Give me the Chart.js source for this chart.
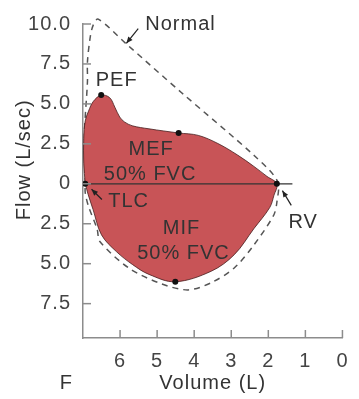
<!DOCTYPE html>
<html>
<head>
<meta charset="utf-8">
<script src="https://cdn.jsdelivr.net/npm/chart.js@4.4.1/dist/chart.umd.min.js"></script>
<style>
  html, body { margin: 0; padding: 0; background: #fff; overflow: hidden; }
  canvas { display: block; }
</style>
</head>
<body>
<canvas id="loop" width="359" height="399"></canvas>
<script>
// patient loop: expiration TLC -> RV (upper half), then inspiration RV -> TLC (lower half, negative)
const patientVolume = [6.94, 6.98, 6.98, 6.94, 6.85, 6.72, 6.51, 6.28, 6.14, 6.01, 5.88, 5.67, 5.22, 4.42, 3.89, 3.36, 2.83, 2.39, 2.04, 1.77,
  1.85, 1.96, 2.39, 2.92, 3.54, 4.51, 5.22, 5.66, 6.10, 6.50, 6.73, 6.86, 6.94];
const patientFlow = [0, 1.29, 2.83, 3.93, 4.55, 5.16, 5.55, 5.39, 4.79, 4.18, 3.87, 3.63, 3.44, 3.18, 3.03, 2.52, 1.80, 1.09, 0.47, 0,
  -0.74, -1.48, -2.81, -4.44, -5.47, -6.13, -5.67, -5.06, -4.24, -3.20, -1.60, -0.68, 0];

// normal loop (dashed)
const normalVolume = [6.94, 6.96, 6.88, 6.88, 6.81, 6.73, 6.59, 5.83, 4.34, 2.36, 1.75,
  1.77, 1.86, 2.39, 2.92, 3.54, 4.16, 4.87, 5.75, 6.54, 6.62, 6.86, 6.94, 6.94];
const normalFlow = [0, 3.2, 6.39, 7.62, 9.10, 9.90, 10.30, 8.75, 5.70, 1.72, 0.15,
  -1.17, -1.99, -3.83, -5.27, -6.19, -6.64, -6.27, -5.29, -3.63, -2.83, -1.35, -0.55, 0];

// marked points
const keyNames = ['TLC', 'PEF', 'MEF', 'MIF', 'RV'];
const keyVolume = [6.94, 6.51, 4.42, 4.51, 1.77];
const keyFlow = [0, 5.55, 3.18, -6.13, 0];

// zero flow line
const zeroVolume = [7, 1.35];
const zeroFlow = [0, 0];

const xTickValues = [6, 5, 4, 3, 2, 1, 0];
const xTickLabels = ['6', '5', '4', '3', '2', '1', '0'];
const yTickValues = [10, 7.5, 5, 2.5, 0, -2.5, -5, -7.5];
const yTickLabels = ['10.0', '7.5', '5.0', '2.5', '0', '2.5', '5.0', '7.5'];

const notes = [
  { text: 'Normal', x: 4.37, y: 9.95 },
  { text: 'PEF', x: 6.09, y: 6.45 },
  { text: 'MEF', x: 5.16, y: 2.15 },
  { text: '50% FVC', x: 5.19, y: 0.61 },
  { text: 'TLC', x: 5.77, y: -1.11 },
  { text: 'MIF', x: 4.34, y: -2.77 },
  { text: '50% FVC', x: 4.29, y: -4.36 },
  { text: 'RV', x: 1.06, y: -2.40 }
];
const arrows = [
  { from: [5.51, 9.71], to: [5.83, 8.79] },
  { from: [6.49, -0.98], to: [6.77, -0.34] },
  { from: [1.38, -1.35], to: [1.62, -0.43] }
];

const FONT = '"Liberation Sans", Arial, sans-serif';
const TEXT = '#333';
const AXIS = '#8c8c8c';

const pts = (xs, ys) => xs.map((v, i) => ({ x: v, y: ys[i] }));

function arrow(ctx, x0, y0, x1, y1) {
  const a = Math.atan2(y1 - y0, x1 - x0);
  ctx.beginPath();
  ctx.moveTo(x0, y0);
  ctx.lineTo(x1, y1);
  ctx.stroke();
  ctx.beginPath();
  ctx.moveTo(x1, y1);
  ctx.lineTo(x1 - 7 * Math.cos(a - 0.4), y1 - 7 * Math.sin(a - 0.4));
  ctx.lineTo(x1 - 7 * Math.cos(a + 0.4), y1 - 7 * Math.sin(a + 0.4));
  ctx.closePath();
  ctx.fill();
}

const overlay = {
  id: 'overlay',
  beforeDraw(chart) {
    chart.ctx.letterSpacing = '1px';
  },
  afterDatasetsDraw(chart) {
    const { ctx, scales: { x, y } } = chart;
    ctx.save();
    // inward tick marks
    ctx.strokeStyle = AXIS;
    ctx.lineWidth = 1.5;
    x.ticks.forEach(t => {
      const px = x.getPixelForValue(t.value);
      ctx.beginPath(); ctx.moveTo(px, y.bottom); ctx.lineTo(px, y.bottom - 8); ctx.stroke();
    });
    y.ticks.forEach(t => {
      const py = y.getPixelForValue(t.value);
      ctx.beginPath(); ctx.moveTo(x.left, py); ctx.lineTo(x.left + 8, py); ctx.stroke();
    });

    // arrows
    ctx.strokeStyle = '#222';
    ctx.fillStyle = '#222';
    ctx.lineWidth = 1.2;
    arrows.forEach(a => {
      arrow(ctx, x.getPixelForValue(a.from[0]), y.getPixelForValue(a.from[1]),
        x.getPixelForValue(a.to[0]), y.getPixelForValue(a.to[1]));
    });

    // labels
    ctx.fillStyle = TEXT;
    ctx.font = '20px ' + FONT;
    ctx.textAlign = 'center';
    ctx.textBaseline = 'middle';
    notes.forEach(n => ctx.fillText(n.text, x.getPixelForValue(n.x), y.getPixelForValue(n.y)));

    // stray caption letter
    ctx.fillText('F', x.getPixelForValue(7.45), chart.height - 16);

    // y axis title
    ctx.save();
    ctx.translate(y.left + 24, y.getPixelForValue(1.5));
    ctx.rotate(-Math.PI / 2);
    ctx.fillText('Flow (L/sec)', 0, 0);
    ctx.restore();
    ctx.restore();
  }
};

new Chart(document.getElementById('loop'), {
  type: 'scatter',
  data: {
    datasets: [
      {
        data: pts(keyVolume, keyFlow),
        pointRadius: 3,
        pointBackgroundColor: '#111',
        pointBorderWidth: 0,
        order: 0
      },
      {
        data: pts(zeroVolume, zeroFlow),
        showLine: true,
        borderColor: '#333',
        borderWidth: 1.2,
        pointRadius: 0,
        order: 1
      },
      {
        data: pts(patientVolume, patientFlow),
        showLine: true,
        fill: 'shape',
        backgroundColor: '#c85457',
        borderColor: 'rgba(70, 30, 30, 0.8)',
        borderWidth: 1,
        tension: 0.35,
        pointRadius: 0,
        order: 2
      },
      {
        data: pts(normalVolume, normalFlow),
        showLine: true,
        borderColor: '#555',
        borderWidth: 1.5,
        borderDash: [6, 5],
        tension: 0.3,
        pointRadius: 0,
        clip: false,
        order: 3
      }
    ]
  },
  options: {
    responsive: false,
    animation: false,
    devicePixelRatio: 1,
    layout: { padding: { top: 18, right: 12, left: 0, bottom: 0 } },
    plugins: { legend: { display: false }, tooltip: { enabled: false } },
    scales: {
      x: {
        type: 'linear',
        reverse: true,
        min: 0,
        max: 7,
        afterFit: s => { s.height = 61; },
        afterBuildTicks: s => { s.ticks = xTickValues.map(v => ({ value: v })); },
        grid: { drawOnChartArea: false, drawTicks: false },
        border: { color: AXIS, width: 1.5 },
        ticks: {
          autoSkip: false,
          maxRotation: 0,
          padding: 11,
          color: '#444',
          font: { family: FONT, size: 20 },
          callback: (v, i) => xTickLabels[i]
        },
        title: {
          display: true,
          text: 'Volume (L)',
          color: TEXT,
          font: { family: FONT, size: 20 },
          padding: { top: 0, bottom: 4 }
        }
      },
      y: {
        type: 'linear',
        min: -9.65,
        max: 10,
        afterFit: s => { s.width = 83; },
        afterBuildTicks: s => { s.ticks = yTickValues.map(v => ({ value: v })); },
        grid: { drawOnChartArea: false, drawTicks: false },
        border: { color: AXIS, width: 1.5 },
        ticks: {
          autoSkip: false,
          padding: 12,
          color: '#444',
          font: { family: FONT, size: 20 },
          callback: (v, i) => yTickLabels[i]
        }
      }
    }
  },
  plugins: [overlay]
});
</script>
</body>
</html>
